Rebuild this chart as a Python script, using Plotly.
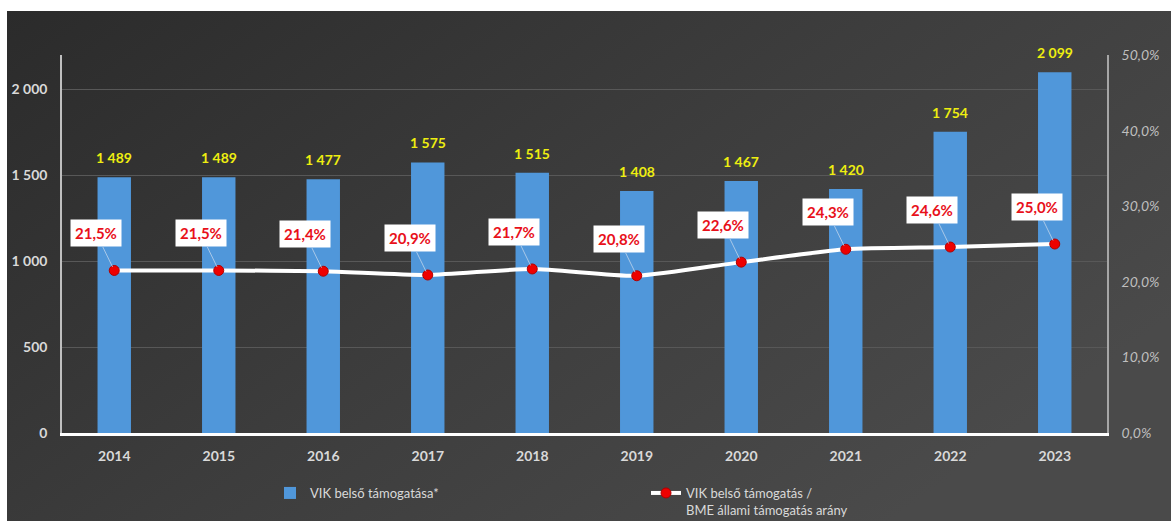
import base64
import plotly.graph_objects as go

years = [2014, 2015, 2016, 2017, 2018, 2019, 2020, 2021, 2022, 2023]
support = [1489, 1489, 1477, 1575, 1515, 1408, 1467, 1420, 1754, 2099]
ratio_pct = [21.5, 21.5, 21.4, 20.9, 21.7, 20.8, 22.6, 24.3, 24.6, 25.0]

left_ticks = [0, 500, 1000, 1500, 2000]
right_ticks = [0, 10, 20, 30, 40, 50]
right_tick_labels = ["0,0%", "10,0%", "20,0%", "30,0%", "40,0%", "50,0%"]

bar_name = "VIK belső támogatása*"
line_name = "VIK belső támogatás /<br>BME állami támogatás arány"

FONT = "Lato, 'Open Sans', sans-serif"

# dark gradient backdrop as an inline SVG
svg = (
    '<svg xmlns="http://www.w3.org/2000/svg" width="1164" height="510" preserveAspectRatio="none">'
    '<defs><linearGradient id="g" x1="0" y1="0" x2="1" y2="0.6">'
    '<stop offset="0" stop-color="#2b2b2b"/>'
    '<stop offset="0.55" stop-color="#3d3d3d"/>'
    '<stop offset="1" stop-color="#4a4a4a"/>'
    '</linearGradient></defs>'
    '<rect width="1164" height="510" fill="url(#g)"/></svg>'
)
bg_src = "data:image/svg+xml;base64," + base64.b64encode(svg.encode()).decode()

W, H = 1171, 521
ml, mr, mt, mb = 62, 64, 55, 88
pw, ph = W - ml - mr, H - mt - mb


def px_x(p):
    return (p - ml) / pw


def px_y(p):
    return (H - mb - p) / ph


def fmt_thousands(v):
    return f"{v:,}".replace(",", " ")


fig = go.Figure()

fig.add_trace(go.Bar(
    x=years, y=support, name=bar_name,
    marker=dict(color="#5097da", line=dict(width=0)),
    width=0.32,
))

fig.add_trace(go.Scatter(
    x=years, y=ratio_pct, name=line_name, yaxis="y2",
    mode="lines+markers",
    line=dict(color="white", width=4, shape="spline", smoothing=0.6),
    marker=dict(color="#ee0000", size=10, line=dict(color="#b00000", width=1)),
))

# value labels above the bars
for yr, v in zip(years, support):
    fig.add_annotation(
        x=yr, y=v, xref="x", yref="y", text=fmt_thousands(v),
        showarrow=False, yanchor="bottom", yshift=9,
        font=dict(color="#eeee10", size=14, family=FONT, weight="bold"),
    )

# ratio labels in white boxes with leader lines
for yr, v in zip(years, ratio_pct):
    fig.add_annotation(
        x=yr, y=v, xref="x", yref="y2",
        text=f"{v:.1f}%".replace(".", ","),
        showarrow=True, arrowhead=0, arrowwidth=1, arrowcolor="#a9c8e8",
        axref="pixel", ayref="pixel", ax=-18, ay=-37, standoff=4,
        bgcolor="white", borderpad=4,
        font=dict(color="#e8101a", size=15, family=FONT, weight="bold"),
    )

fig.add_layout_image(dict(
    source=bg_src, xref="paper", yref="paper",
    x=px_x(7), y=px_y(11), sizex=px_x(W) - px_x(7), sizey=px_y(11) - px_y(H),
    sizing="stretch", xanchor="left", yanchor="top", layer="below",
))

fig.update_layout(
    width=W, height=H,
    margin=dict(l=ml, r=mr, t=mt, b=mb, autoexpand=False),
    paper_bgcolor="white",
    plot_bgcolor="rgba(0,0,0,0)",
    separators=", ",
    font=dict(family=FONT, color="#d9d9d9"),
    xaxis=dict(
        type="linear", range=[years[0] - 0.5, years[-1] + 0.5],
        tickvals=years, tickformat="d",
        showgrid=False, ticks="", zeroline=False,
        showline=True, linecolor="#ffffff", linewidth=2.5,
        tickfont=dict(size=14, color="#d9d9d9", family=FONT, weight="bold"),
        ticklabelstandoff=8,
    ),
    yaxis=dict(
        range=[0, 2200], tickvals=left_ticks, tickformat=",",
        showgrid=True, gridcolor="#585858", gridwidth=1, zeroline=False,
        showline=True, linecolor="#bfbfbf", linewidth=1.5,
        tickfont=dict(size=14, color="#d9d9d9", family=FONT, weight="bold"),
        ticklabelstandoff=10,
    ),
    yaxis2=dict(
        range=[0, 50], tickvals=right_ticks, ticktext=right_tick_labels,
        overlaying="y", side="right", showgrid=False, zeroline=False,
        showline=True, linecolor="#a6a6a6", linewidth=1.5,
        tickfont=dict(size=14, color="#bfbfbf", family=FONT, style="italic"),
        ticklabelstandoff=10,
    ),
    legend=dict(
        orientation="h", x=px_x(270), y=px_y(478), xanchor="left", yanchor="top",
        entrywidth=331, entrywidthmode="pixels",
        font=dict(size=13, color="#d9d9d9", family=FONT),
        bgcolor="rgba(0,0,0,0)", valign="top", traceorder="normal",
    ),
    showlegend=True,
)

fig.write_html("out.html")
